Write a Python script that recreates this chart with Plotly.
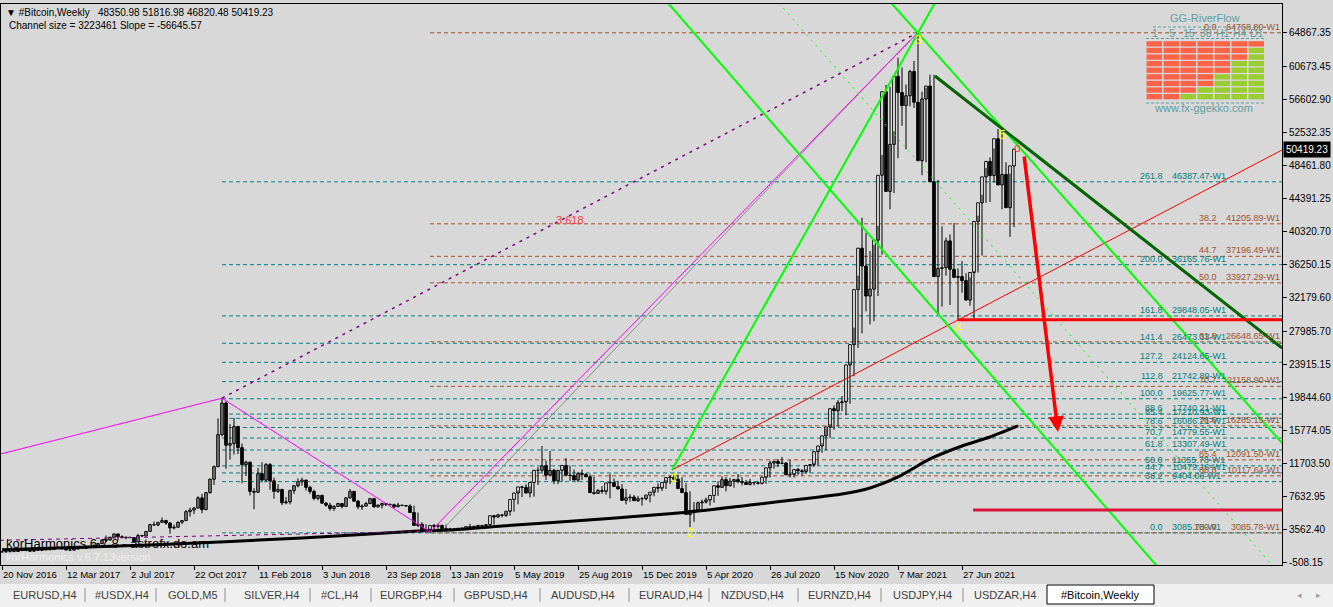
import pandas as pd
import plotly.graph_objects as go

START = pd.Timestamp("2016-11-20")


def d(i):
    return (START + pd.Timedelta(days=7 * i)).strftime("%Y-%m-%d %H:%M:%S")


# ---------------- weekly OHLC (#Bitcoin, Weekly) ----------------
opens = [
    738, 730, 767, 778, 792, 900,
    998, 908, 822, 920, 920, 1015, 995, 1050, 1180, 1270, 1230, 970, 960, 1090, 1180, 1175, 1260, 1345,
    1560, 1760, 2180, 2200, 2550, 2950, 2600, 2550, 2500, 2510, 1990, 2750, 2700, 3260, 4100, 4060,
    4380, 4600, 4300, 3700, 3780, 4400, 4600, 5700, 5900, 6140, 7400, 5950, 8050, 9700, 11250, 15200,
    19100, 13900,
    14100, 16200, 13600, 11500, 11800, 8200, 8100, 10400, 9600, 11500, 9500, 8200, 8450, 6800, 6900,
    8300, 8900, 9400, 9600, 8700, 8200, 7350, 7700, 6750, 6500, 6100, 6350, 6700, 6350, 7400, 8200,
    7000, 6300, 6400, 6700, 7300, 6300, 6500, 6700, 6600, 6550, 6300, 6500, 6450, 6400, 5600, 4000,
    4150, 3500, 3250, 4000,
    3900, 4000, 3600, 3550, 3550, 3450, 3650, 3650, 3850, 3800, 3900, 4000, 4000, 4100, 5200, 5050,
    5300, 5250, 5750, 7200, 8000, 8750, 8700, 8000, 9300, 10800, 10800, 11350, 10200, 10800, 9500,
    10800, 11400, 10200, 10150, 9600, 10400, 10300, 10000, 8050, 7950, 8300, 8200, 9250, 9300, 8800,
    8500, 7100, 7400, 7500, 7050, 7300,
    7300, 7750, 8100, 8700, 8600, 9300, 9900, 9950, 9700, 8550, 8050, 5350, 5850, 5900, 6800, 6900,
    7150, 7700, 8900, 8700, 9650, 8900, 9450, 9650, 9400, 9300, 9050, 9300, 9250, 9200, 9950, 11100,
    11700, 11900, 11650, 11700, 10250, 10300, 10900, 10750, 10650, 11400, 11500, 13100, 13800, 15050,
    16150, 18400, 18150, 19150, 19250, 23800, 26300,
    33100, 38200, 36000, 32300, 33150, 39200, 47200, 57500, 45200, 51000, 59400, 57400, 55800, 57000,
    60000, 56200, 49000, 56600, 58200, 46400, 34700, 35700, 35800, 39100, 35600, 34600, 34700, 34200,
    31800, 35200, 41500, 43800, 47000, 48900, 47150, 51700, 46000, 47300, 43200, 48350.98,
]
highs = [
    752, 780, 780, 795, 935, 1000,
    1150, 910, 930, 925, 1030, 1050, 1060, 1190, 1290, 1325, 1255, 1100, 1100, 1210, 1210, 1270, 1350, 1620,
    1850, 2200, 2760, 2580, 2980, 2980, 2780, 2600, 2650, 2530, 2950, 2850, 3300, 4200, 4480, 4400,
    4980, 4700, 4400, 4100, 4450, 4600, 5900, 6200, 6300, 7600, 7900, 8100, 9800, 11400, 17200, 19700,
    19300, 16500,
    17250, 16300, 14100, 12000, 11900, 8600, 11100, 11800, 11700, 11700, 9900, 9100, 8500, 7500, 8400,
    9000, 9800, 9900, 9600, 8900, 8400, 7750, 7800, 6900, 6800, 6500, 6800, 6700, 7500, 8500, 8250,
    7150, 6600, 6900, 7400, 7400, 6600, 6800, 6800, 6700, 6700, 6800, 6550, 6500, 6600, 6450, 5600,
    4400, 4150, 3600, 4200, 4200,
    4100, 4100, 3700, 3650, 3550, 3700, 3700, 4200, 3900, 3950, 4050, 4100, 4150, 5300, 5450, 5400,
    5650, 5900, 7300, 8300, 8900, 9100, 8800, 9300, 11200, 13800, 12000, 13200, 11000, 10800, 10900,
    12300, 11400, 10900, 10600, 10900, 10450, 10300, 10000, 8500, 8850, 8400, 10350, 9800, 9500, 9100,
    8500, 7850, 7750, 7650, 7500, 7600,
    7800, 8450, 9200, 8750, 9600, 10150, 10500, 10250, 9950, 9200, 8200, 6900, 6950, 7200, 7450, 7250,
    7750, 9450, 10050, 9950, 9850, 9750, 10350, 9950, 9600, 9750, 9350, 9450, 9300, 10100, 12000, 11900,
    12200, 12450, 11800, 12100, 10450, 11100, 10950, 10950, 11500, 11750, 13350, 14100, 15950, 16500,
    18800, 19450, 19950, 19400, 24200, 28400, 34800,
    41950, 40100, 37850, 38600, 40950, 49700, 58350, 58100, 52600, 61700, 60500, 58400, 60200, 61300,
    64800, 57500, 58000, 59600, 59600, 46600, 40900, 39500, 39900, 41300, 35700, 36600, 35100, 34600,
    35400, 42200, 44800, 48100, 49400, 50500, 52900, 52800, 48800, 47400, 48400, 51816.98,
]
lows = [
    727, 728, 750, 772, 790, 885,
    820, 752, 820, 880, 910, 940, 980, 1045, 1150, 980, 940, 890, 940, 1080, 1160, 1170, 1240, 1340,
    1550, 1700, 1950, 2180, 2500, 2150, 2450, 2300, 2480, 1840, 1980, 2600, 2650, 3230, 3950, 3900,
    4300, 4080, 2980, 3500, 3760, 4150, 4600, 5100, 5400, 6100, 5500, 5900, 7900, 9000, 11200, 15000,
    11000, 12100,
    12750, 12800, 9200, 10100, 7700, 6000, 8000, 9300, 9400, 8400, 7300, 8000, 6500, 6600, 6600,
    7900, 8700, 8900, 8300, 7900, 7100, 7100, 6700, 6300, 5800, 5800, 6300, 6100, 6300, 7300, 6900,
    6000, 5900, 6300, 6700, 6200, 6200, 6100, 6400, 6500, 6100, 6300, 6400, 6300, 6300, 5300, 3800,
    3600, 3300, 3086, 3200, 3600,
    3700, 3500, 3500, 3500, 3350, 3400, 3550, 3650, 3750, 3700, 3850, 3950, 3900, 4100, 4950, 5000,
    5050, 5200, 5700, 6600, 7500, 8000, 7450, 7550, 9000, 10400, 9600, 10100, 9100, 9100, 9400,
    10800, 9500, 9900, 9350, 9600, 10000, 9850, 7800, 7900, 7900, 7800, 7350, 8900, 8700, 8300,
    6600, 6900, 7150, 6900, 6450, 7100,
    6850, 7600, 8050, 8250, 8500, 9100, 9600, 9300, 8400, 7950, 3800, 4450, 5700, 5900, 6700, 6450,
    6800, 7650, 8650, 8200, 8800, 8650, 9200, 8950, 9200, 8950, 8950, 9050, 9050, 9150, 9900, 11000,
    11200, 11550, 11200, 9900, 9900, 10250, 10150, 10400, 10500, 11200, 11400, 12950, 13300, 14800,
    15800, 16200, 18100, 17600, 19000, 22400, 25900,
    27700, 30400, 28800, 29200, 32300, 37400, 47000, 43000, 45000, 49300, 53300, 50400, 55700, 55500,
    51500, 47200, 48800, 53300, 43800, 30000, 31000, 34800, 31200, 34900, 29300, 32700, 32100, 31100,
    29300, 35200, 37300, 43800, 43900, 46300, 46600, 43000, 44800, 39600, 40800, 46820.48,
]
closes = [
    730, 767, 778, 792, 900, 998,
    908, 822, 920, 920, 1015, 995, 1050, 1180, 1270, 1230, 970, 960, 1090, 1180, 1175, 1260, 1345, 1560,
    1760, 2180, 2200, 2550, 2950, 2600, 2550, 2500, 2510, 1990, 2750, 2700, 3260, 4100, 4060, 4380,
    4600, 4300, 3700, 3780, 4400, 4600, 5700, 5900, 6140, 7400, 5950, 8050, 9700, 11250, 15200, 19100,
    13900, 14100,
    16200, 13600, 11500, 11800, 8200, 8100, 10400, 9600, 11500, 9500, 8200, 8450, 6800, 6900, 8300,
    8900, 9400, 9600, 8700, 8200, 7350, 7700, 6750, 6500, 6100, 6350, 6700, 6350, 7400, 8200, 7000,
    6300, 6400, 6700, 7300, 6300, 6500, 6700, 6600, 6550, 6300, 6500, 6450, 6400, 5600, 4000, 4150,
    3500, 3250, 4000, 3900,
    4000, 3600, 3550, 3550, 3450, 3650, 3650, 3850, 3800, 3900, 4000, 4000, 4100, 5200, 5050, 5300,
    5250, 5750, 7200, 8000, 8750, 8700, 8000, 9300, 10800, 10800, 11350, 10200, 10800, 9500, 10800,
    11400, 10200, 10150, 9600, 10400, 10300, 10000, 8050, 7950, 8300, 8200, 9250, 9300, 8800, 8500,
    7100, 7400, 7500, 7050, 7300, 7300,
    7750, 8100, 8700, 8600, 9300, 9900, 9950, 9700, 8550, 8050, 5350, 5850, 5900, 6800, 6900, 7150,
    7700, 8900, 8700, 9650, 8900, 9450, 9650, 9400, 9300, 9050, 9300, 9250, 9200, 9950, 11100, 11700,
    11900, 11650, 11700, 10250, 10300, 10900, 10750, 10650, 11400, 11500, 13100, 13800, 15050, 16150,
    18400, 18150, 19150, 19250, 23800, 26300, 33100,
    38200, 36000, 32300, 33150, 39200, 47200, 57500, 45200, 51000, 59400, 57400, 55800, 57000, 60000,
    56200, 49000, 56600, 58200, 46400, 34700, 35700, 35800, 39100, 35600, 34600, 34700, 34200, 31800,
    35200, 41500, 43800, 47000, 48900, 47150, 51700, 46000, 47300, 43200, 48350.98, 50419.23,
]
bar_dates = [d(i) for i in range(len(closes))]

# black moving average
ma_index = [0, 37, 75, 104, 112, 125, 150, 172, 187, 200, 210, 217, 224, 232, 240, 247, 254]
ma_value = [1000, 1590, 2450, 3320, 3440, 3930, 4800, 5660, 6520, 7260, 7880, 8620, 9980, 12200,
            13800, 14910, 16270]

# axes
price_ticks = [64867.35, 60673.45, 56602.90, 52532.35, 48461.80, 44391.25, 40320.70, 36250.15,
               32179.60, 27985.70, 23915.15, 19844.60, 15774.05, 11703.50, 7632.95, 3562.40, -508.15]
date_labels = ["20 Nov 2016", "12 Mar 2017", "2 Jul 2017", "22 Oct 2017", "11 Feb 2018", "3 Jun 2018",
               "23 Sep 2018", "13 Jan 2019", "5 May 2019", "25 Aug 2019", "15 Dec 2019", "5 Apr 2020",
               "26 Jul 2020", "15 Nov 2020", "7 Mar 2021", "27 Jun 2021"]
date_label_index = [0, 16, 32, 48, 64, 80, 96, 112, 128, 144, 160, 176, 192, 208, 224, 240]

# Fibonacci levels
teal_levels = ["0.0", "38.2", "44.7", "50.0", "61.8", "70.7", "78.6", "85.4", "88.6", "100.0",
               "112.8", "127.2", "141.4", "161.8", "200.0", "261.8"]
teal_prices = [3085.78, 9404.06, 10479.16, 11355.78, 13307.49, 14779.55, 16086.21, 17210.93,
               17740.21, 19625.77, 21742.89, 24124.65, 26473.33, 29848.05, 36165.76, 46387.47]
teal_start = 55
brown_levels = ["0.0", "38.2", "44.7", "50.0", "61.8", "70.7", "78.6", "85.4", "88.6", "100.0"]
brown_prices = [64768.80, 41205.89, 37196.49, 33927.29, 26648.65, 21158.90, 16285.15, 12091.50,
                10117.64, 3085.78]
brown_start = 107

# drawn objects (bar index, price)
magenta_idx, magenta_px = [-0.5, 55, 107, 229], [12800, 19700, 3200, 64800]
purple_dot_idx, purple_dot_px = [55, 229], [19700, 64800]
purple_dash_idx, purple_dash_px = [-0.5, 107], [2170, 3280]
gray_idx, gray_px = [110.75, 227], [3808, 63880]
green_up_idx, green_up_px = [167.5, 233.5], [10840, 68700]
green_dn1_idx, green_dn1_px = [221.5, 320], [68900, 14170]
green_dn2_idx, green_dn2_px = [166.5, 289.6], [68444, -1500]
green_dot_idx, green_dot_px = [194.2, 318.6], [68444, -1500]
dkgreen_idx, dkgreen_px = [233.25, 320], [59440, 25888]
red_thin_idx, red_thin_px = [167.5, 320], [10840, 50312]
red_flat_idx, red_flat_px = [239, 320], [29380, 29380]
crimson_idx, crimson_px = [242.75, 320], [5906, 5906]
arrow_idx, arrow_px = [255.5, 264], [49695, 15527]
wave_labels = ["1", "2", "3", "4", "5"]
wave_idx = [168, 172, 229, 239, 250]
wave_px = [9850, 3070, 63880, 28356, 52162]

# GG-RiverFlow panel: green cells per row (from the right)
river_cols = ["1", "5", "15", "30", "H1", "H4", "D1"]
river_green = [0, 1, 1, 2, 2, 3, 3, 4, 5]

tab_names = ["EURUSD,H4", "#USDX,H4", "GOLD,M5", "SILVER,H4", "#CL,H4", "EURGBP,H4", "GBPUSD,H4",
             "AUDUSD,H4", "EURAUD,H4", "NZDUSD,H4", "EURNZD,H4", "USDJPY,H4", "USDZAR,H4"]
tab_centers = [45, 122, 193, 271, 339, 411, 496, 583, 671, 752, 840, 922, 1005]
tab_seps = [85, 156, 225, 310, 371, 454, 540, 629, 709, 798, 881, 963]

# ---------------- geometry ----------------
W, H = 1333, 607
ML, MR, MT, MB = 1, 51, 4, 42
PW, PH = W - ML - MR, H - MT - MB
Y_TOP, Y_BOT = 68321.0, -878.2
BG = "#D8D8D8"
FONT = "Liberation Sans, Arial, sans-serif"
TEAL = "#008080"
BROWN = "#A0522D"
CADET = "#5F9EA0"
WEEK_MS = 7 * 24 * 3600 * 1000


def X(px):
    return (px - ML) / PW


def Y(py):
    return (H - MB - py) / PH


fig = go.Figure()

# candles: wicks (high-low) then bodies (open-close)
wick_x, wick_y = [], []
for dt, lo, hi in zip(bar_dates, lows, highs):
    wick_x += [dt, dt, None]
    wick_y += [lo, hi, None]
fig.add_trace(go.Scatter(x=wick_x, y=wick_y, mode="lines", line=dict(color="black", width=1),
                         hoverinfo="skip", showlegend=False))
fig.add_trace(go.Bar(
    x=bar_dates,
    base=[min(o, c) for o, c in zip(opens, closes)],
    y=[max(abs(c - o), 1) for o, c in zip(opens, closes)],
    width=0.65 * WEEK_MS,
    marker=dict(color=["white" if c >= o else "black" for o, c in zip(opens, closes)],
                line=dict(color="black", width=1)),
    hoverinfo="skip", showlegend=False))

fig.add_trace(go.Scatter(x=[d(i) for i in ma_index], y=ma_value, mode="lines",
                         line=dict(color="black", width=3, shape="spline", smoothing=0.6),
                         hoverinfo="skip", showlegend=False))


def add_line(idx, px, color, width, dash="solid"):
    fig.add_trace(go.Scatter(x=[d(i) for i in idx], y=px, mode="lines",
                             line=dict(color=color, width=width, dash=dash),
                             hoverinfo="skip", showlegend=False))


add_line(purple_dash_idx, purple_dash_px, "#800080", 1, "4px,4px")
add_line(gray_idx, gray_px, "#8C8C8C", 1)
add_line(magenta_idx, magenta_px, "#FF00FF", 1)
add_line(purple_dot_idx, purple_dot_px, "#800080", 1.5, "3px,5px")
add_line(red_thin_idx, red_thin_px, "#FF0000", 1)
add_line(green_dot_idx, green_dot_px, "#00FF00", 1, "2px,5px")
add_line(green_up_idx, green_up_px, "#00FF00", 2)
add_line(green_dn1_idx, green_dn1_px, "#00FF00", 2)
add_line(green_dn2_idx, green_dn2_px, "#00FF00", 2)
add_line(dkgreen_idx, dkgreen_px, "#006400", 3)
add_line(red_flat_idx, red_flat_px, "#FF0000", 3)
add_line(crimson_idx, crimson_px, "#DC143C", 3)

shapes = []
annotations = []


def note(x, y, text, size, color, xanchor="center", yanchor="middle", xref="paper", yref="paper", **kw):
    annotations.append(dict(xref=xref, yref=yref, x=x, y=y, text=text, xanchor=xanchor, yanchor=yanchor,
                            showarrow=False, font=dict(family=FONT, size=size, color=color), **kw))


# Fibonacci level lines + labels
for lvl, p in zip(teal_levels, teal_prices):
    shapes.append(dict(type="line", xref="x", yref="y", x0=d(teal_start), x1=d(330), y0=p, y1=p,
                       line=dict(color=TEAL, width=1, dash="4px,3px"), layer="below"))
    note(X(1164), p, lvl, 9, TEAL, "right", "bottom", yref="y", borderpad=0)
    note(X(1171), p, "%.2f-W1" % p, 9, TEAL, "left", "bottom", yref="y", borderpad=0)
for lvl, p in zip(brown_levels, brown_prices):
    shapes.append(dict(type="line", xref="x", yref="y", x0=d(brown_start), x1=d(330), y0=p, y1=p,
                       line=dict(color=BROWN, width=1, dash="4px,3px"), layer="below"))
    note(X(1218), p, lvl, 9, BROWN, "right", "bottom", yref="y", borderpad=0)
    note(X(1281), p, "%.2f-W1" % p, 9, BROWN, "right", "bottom", yref="y", borderpad=0)

# red arrow
annotations.append(dict(xref="x", yref="y", axref="x", ayref="y", x=d(arrow_idx[1]), y=arrow_px[1],
                        ax=d(arrow_idx[0]), ay=arrow_px[0], text="", showarrow=True, arrowhead=2,
                        arrowsize=0.9, arrowwidth=3.5, arrowcolor="#FF0000"))

# wave labels
for t, i, p in zip(wave_labels, wave_idx, wave_px):
    note(d(i), p, t, 12, "#FFFF00", xref="x", yref="y")
note(d(253.75), 50558, "o", 12, "#FF4040", xref="x", yref="y")
note(d(142), 41677, "3.618", 11, "#F03C3C", xref="x", yref="y")

# header
note(X(4), Y(13), "\u25bc #Bitcoin,Weekly\u00a0\u00a0 48350.98 51816.98 46820.48 50419.23", 10, "black", "left")
note(X(7), Y(26), "Channel size = 3223461 Slope = -56645.57", 10, "black", "left")

# korHarmonics texts
note(X(4), Y(543), "korHarmonics 6.7.8 - astrofx.do.am", 13, "black", "left")
note(X(4), Y(557), "korHarmonics v.6.7.13version", 11, "#EEEEEE", "left")

# current price label on axis
note(X(1283), closes[-1], "50419.23", 10, "white", "left", yref="y", bgcolor="black", borderpad=2)

# date labels
for lab, i in zip(date_labels, date_label_index):
    note(d(i), Y(574), lab, 9.5, "black", "left", xref="x", borderpad=0)

# GG-RiverFlow panel
note(X(1205), Y(18), "GG-RiverFlow", 11, CADET)
note(X(1203), Y(108), "www.fx-ggekko.com", 11, CADET)
cw, rh, cx0, ry0 = 17.0, 6.6, 1146.0, 40.7
for c, name in enumerate(river_cols):
    note(X(cx0 + cw * c + cw / 2), Y(33), name, 10.5, CADET)
for r, ng in enumerate(river_green):
    for c in range(len(river_cols)):
        col = "#9ACD32" if c >= len(river_cols) - ng else "#FF6347"
        shapes.append(dict(type="rect", xref="paper", yref="paper",
                           x0=X(cx0 + cw * c + 0.5), x1=X(cx0 + cw * (c + 1) - 1),
                           y0=Y(ry0 + rh * r + 0.5), y1=Y(ry0 + rh * (r + 1) - 0.8),
                           fillcolor=col, line=dict(width=0), layer="above"))
for yy, xa in [(27, 1153), (38.5, 1146), (103, 1146)]:
    shapes.append(dict(type="line", xref="paper", yref="paper", x0=X(xa), x1=X(1266), y0=Y(yy), y1=Y(yy),
                       line=dict(color=CADET, width=1, dash="3px,2px")))

# tab bar
shapes.append(dict(type="rect", xref="paper", yref="paper", x0=X(-2), x1=X(1335), y0=Y(584), y1=Y(609),
                   fillcolor="#F0F0F0", line=dict(width=0), layer="above"))
for name, cx in zip(tab_names, tab_centers):
    note(X(cx), Y(595), name, 11, "#404040")
for sx in tab_seps:
    shapes.append(dict(type="line", xref="paper", yref="paper", x0=X(sx), x1=X(sx), y0=Y(588), y1=Y(602),
                       line=dict(color="#909090", width=1)))
shapes.append(dict(type="rect", xref="paper", yref="paper", x0=X(1047), x1=X(1154), y0=Y(585), y1=Y(604),
                   fillcolor="white", line=dict(color="black", width=1), layer="above"))
note(X(1100), Y(595), "#Bitcoin,Weekly", 11, "black")
note(X(1299), Y(595), "\u25c2", 9, "#A0A0A0")
note(X(1318), Y(595), "\u25b8", 9, "#A0A0A0")

fig.update_layout(
    width=W, height=H, autosize=False,
    margin=dict(l=ML, r=MR, t=MT, b=MB, pad=0),
    paper_bgcolor=BG, plot_bgcolor=BG,
    showlegend=False, hovermode=False, barmode="overlay",
    shapes=shapes, annotations=annotations,
    xaxis=dict(type="date", range=[d(-0.25), d(320)], showgrid=False, zeroline=False,
               tickvals=[d(i) for i in date_label_index], ticks="outside", ticklen=4, tickcolor="black",
               showticklabels=False, showline=True, linecolor="black", linewidth=1, mirror=True,
               fixedrange=True),
    yaxis=dict(range=[Y_BOT, Y_TOP], side="right", showgrid=False, zeroline=False,
               tickvals=price_ticks, ticktext=["%.2f" % v for v in price_ticks],
               ticks="outside", ticklen=4, tickcolor="black",
               tickfont=dict(family=FONT, size=10, color="black"),
               showline=True, linecolor="black", linewidth=1, mirror=True, fixedrange=True),
)

fig.write_html("out.html", config={"displayModeBar": False},
               post_script="document.body.style.margin='0';document.body.style.overflow='hidden';"
                           "document.body.style.background='" + BG + "';")
